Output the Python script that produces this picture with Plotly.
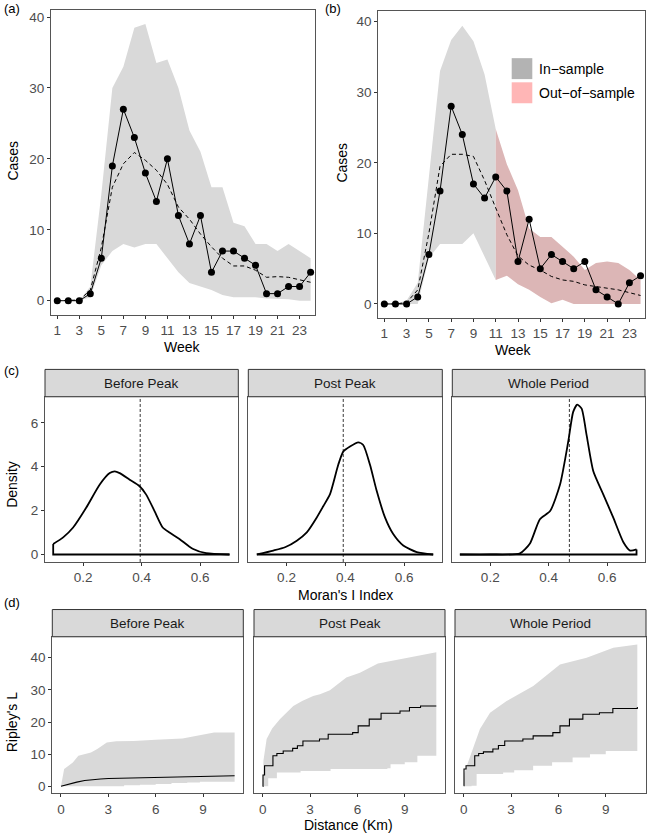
import plotly.graph_objects as go

W, H = 649, 836

# ---------------- data ----------------
weeks = list(range(1, 25))
a_obs = [0, 0, 0, 1, 6, 19, 27, 23, 18, 14, 20, 12, 8, 12, 4, 7, 7, 6, 5, 1, 1, 2, 2, 4]
a_fit = [0, 0, 0.1, 1.5, 7.5, 16, 19.3, 20.9, 19.8, 18.4, 16.4, 13.2, 11.5, 9.4, 7.6, 6.0, 4.9, 4.9, 4.3, 3.3, 3.4, 3.3, 3.0, 2.6]
a_upper = [0, 0, 0, 2, 15, 30, 33, 38.5, 39, 33.5, 34, 30, 24, 21, 16, 16, 11, 10.5, 8, 8, 7, 8, 7, 6]
a_lower = [0, 0, 0, 0.5, 5, 7, 8, 7.5, 8, 8, 6, 4, 2.5, 2, 1.5, 0.8, 0.5, 0.5, 0.5, 0.3, 0.3, 0.2, 0, 0]

b_obs = [0, 0, 0, 1, 7, 16, 28, 24, 17, 15, 18, 16, 6, 12, 5, 7, 6, 5, 6, 2, 1, 0, 3, 4]
b_fit = [0, 0, 0.2, 2, 10, 19.5, 21.2, 21.2, 20.9, 17.5, 13.6, 9.8, 6.8, 5.5, 4.8, 3.9, 3.4, 3.2, 2.7, 2.5, 2.3, 2.0, 1.6, 1.2]
b_upper = [0, 0, 0.5, 3, 18, 33, 37.4, 39.4, 37.2, 32.5, 24.8, 19.8, 16.1, 10.7, 9.5, 9.5, 8.1, 6.7, 4.8, 5.8, 6.0, 5.8, 4.8, 3.4]
b_lower = [0, 0, 0, 0, 6.5, 8.5, 8.5, 8.5, 10, 6.7, 3.4, 4.0, 2.8, 2.0, 1.0, 0.1, 0.6, 0, 0, 0, 0, 0, 0, 0]
b_split_week = 11
legend_labels = ["In\u2212sample", "Out\u2212of\u2212sample"]

facets = ["Before Peak", "Post Peak", "Whole Period"]

dens_x = [
    [0.098, 0.132, 0.166, 0.211, 0.257, 0.291, 0.308, 0.325, 0.359, 0.393, 0.415, 0.444, 0.472, 0.495, 0.529, 0.574, 0.62, 0.70],
    [0.099, 0.155, 0.195, 0.235, 0.269, 0.303, 0.325, 0.348, 0.376, 0.393, 0.416, 0.444, 0.461, 0.484, 0.507, 0.535, 0.563, 0.597, 0.643, 0.699],
    [0.096, 0.2, 0.302, 0.336, 0.37, 0.405, 0.439, 0.467, 0.484, 0.498, 0.513, 0.53, 0.553, 0.587, 0.621, 0.656, 0.679, 0.701],
]
dens_y = [
    [0.48, 0.78, 1.23, 2.14, 3.19, 3.71, 3.79, 3.71, 3.41, 3.11, 2.74, 1.98, 1.23, 1.0, 0.71, 0.26, 0.06, 0.0],
    [0.0, 0.18, 0.33, 0.63, 1.01, 1.69, 2.2, 2.75, 4.09, 4.69, 4.92, 5.11, 4.99, 4.09, 2.89, 1.69, 0.93, 0.41, 0.11, 0.0],
    [0.0, 0.0, 0.05, 0.5, 1.61, 1.98, 3.19, 5.14, 6.5, 6.83, 6.65, 5.44, 3.79, 2.74, 1.69, 0.56, 0.18, 0.23],
]
moran_obs = [0.395, 0.393, 0.471]

rip_line_x = [
    [0, 0.5, 1, 1.5, 2, 2.5, 3, 4, 5, 6, 7, 8, 9, 10, 11],
    [0, 0.02, 0.12, 0.65, 0.9, 1.3, 1.9, 2.2, 2.55, 3.6, 4.15, 5.7, 6.05, 6.75, 7.5, 8.7, 9.3, 10.0, 11],
    [0, 0.02, 0.15, 0.7, 0.95, 1.25, 1.85, 2.2, 2.6, 3.75, 4.4, 5.65, 6.1, 6.7, 7.55, 8.6, 9.45, 11],
]
rip_line_y = [
    [0, 0.7, 1.3, 1.8, 2.1, 2.3, 2.45, 2.55, 2.6, 2.65, 2.75, 2.9, 3.1, 3.2, 3.3],
    [0, 3.5, 6.4, 9.5, 10.2, 11.0, 11.8, 12.6, 14.1, 14.7, 16.2, 16.7, 18.8, 20.9, 22.7, 23.4, 24.5, 25.0, 25.0],
    [0.2, 5.4, 6.4, 9.5, 10.2, 10.7, 11.6, 12.7, 14.1, 14.7, 15.7, 16.7, 18.8, 20.9, 22.4, 22.9, 24.2, 24.7],
]
rip_up_x = [
    [0, 0.1, 0.2, 0.5, 0.75, 1.1, 1.5, 1.9, 2.3, 2.9, 3.5, 4.6, 6, 7.7, 9.7, 11],
    [0, 0.05, 0.25, 0.6, 1.1, 1.5, 1.94, 2.5, 3.2, 3.63, 4.26, 5.3, 6.16, 7.3, 8.7, 10, 11],
    [0, 0.05, 0.2, 0.5, 1.03, 1.67, 2.72, 4.41, 6.1, 7.79, 9.48, 11],
]
rip_up_y = [
    [0, 3.5, 5.4, 6.5, 7.4, 9.5, 10.0, 10.5, 11.6, 13.6, 14.0, 14.1, 14.5, 14.9, 16.7, 16.7],
    [0, 8, 14.7, 18, 20.9, 23, 25, 26.5, 28.1, 28.6, 29.9, 33.8, 35.3, 38.2, 39.5, 40.8, 41.7],
    [0, 4, 6.4, 10.5, 17.8, 22.9, 26.5, 31.2, 37.9, 40, 43.1, 44.1],
]
rip_lo_x = [
    [0, 3, 4, 5, 6, 7, 8, 8.8, 11],
    [0, 0.35, 0.9, 2.4, 4.3, 7.9, 8.1, 9.0, 9.8, 11],
    [0, 0.5, 0.82, 2.5, 3.2, 4.4, 5.6, 6.9, 8.0, 9.0, 11],
]
rip_lo_y = [
    [0, 0, 0.3, 0.5, 0.7, 1.0, 1.2, 1.4, 1.4],
    [0, 2.5, 4.3, 4.8, 5.4, 5.6, 6.9, 7.5, 9.5, 9.5],
    [0, 0.2, 3.8, 4.3, 5.0, 6.4, 7.5, 9.0, 10.0, 11.0, 11.8],
]

# ---------------- styling ----------------
FONT = "Liberation Sans, Arial, Helvetica, sans-serif"
GREY_RIB = "#d9d9d9"
PINK_RIB = "#dcb6b6"
LEG_GREY = "#b3b3b3"
LEG_PINK = "#ffb6b6"
BORDER = "#555555"


def xd(a, b):
    return [a / W, b / W]


def yd(top, bottom):
    return [1 - bottom / H, 1 - top / H]


def px_x(p):
    return p / W


def px_y(p):
    return 1 - p / H


def axis(domain, rng, tickvals, anchor, labels=True, ticktext=None):
    d = dict(domain=domain, range=rng, tickvals=tickvals, anchor=anchor,
             showticklabels=labels, ticks="outside" if labels else "",
             ticklen=3, tickwidth=1, tickcolor="#333333",
             showline=True, mirror=True, linecolor=BORDER, linewidth=1,
             showgrid=False, zeroline=False,
             tickfont=dict(size=13.5, color="#4d4d4d", family=FONT))
    if ticktext is not None:
        d["ticktext"] = ticktext
    return d


fig = go.Figure()
layout = {}

# ---- panel (a) ----
layout["xaxis"] = axis(xd(51, 315), [0.43, 24.4], list(range(1, 24, 2)), "y")
layout["yaxis"] = axis(yd(9.3, 314.3), [-1.95, 40.95], [0, 10, 20, 30, 40], "x")
fig.add_trace(go.Scatter(x=weeks, y=a_lower, mode="lines", line=dict(width=0),
                         hoverinfo="skip", showlegend=False, xaxis="x", yaxis="y"))
fig.add_trace(go.Scatter(x=weeks, y=a_upper, mode="lines", line=dict(width=0),
                         fill="tonexty", fillcolor=GREY_RIB, showlegend=False, xaxis="x", yaxis="y"))
fig.add_trace(go.Scatter(x=weeks, y=a_fit, mode="lines",
                         line=dict(color="black", width=1, dash="4px,3px"),
                         showlegend=False, xaxis="x", yaxis="y"))
fig.add_trace(go.Scatter(x=weeks, y=a_obs, mode="lines+markers",
                         line=dict(color="black", width=1), marker=dict(color="black", size=7),
                         showlegend=False, xaxis="x", yaxis="y"))

# ---- panel (b) ----
layout["xaxis2"] = axis(xd(378.3, 645), [0.46, 24.4], list(range(1, 24, 2)), "y2")
layout["yaxis2"] = axis(yd(10, 317.7), [-1.98, 41.5], [0, 10, 20, 30, 40], "x2")
k = weeks.index(b_split_week)
for sl, col in [(slice(0, k + 1), GREY_RIB), (slice(k, None), PINK_RIB)]:
    fig.add_trace(go.Scatter(x=weeks[sl], y=b_lower[sl], mode="lines", line=dict(width=0),
                             hoverinfo="skip", showlegend=False, xaxis="x2", yaxis="y2"))
    fig.add_trace(go.Scatter(x=weeks[sl], y=b_upper[sl], mode="lines", line=dict(width=0),
                             fill="tonexty", fillcolor=col, showlegend=False, xaxis="x2", yaxis="y2"))
fig.add_trace(go.Scatter(x=weeks, y=b_fit, mode="lines",
                         line=dict(color="black", width=1, dash="4px,3px"),
                         showlegend=False, xaxis="x2", yaxis="y2"))
fig.add_trace(go.Scatter(x=weeks, y=b_obs, mode="lines+markers",
                         line=dict(color="black", width=1), marker=dict(color="black", size=7),
                         showlegend=False, xaxis="x2", yaxis="y2"))

shapes = []
annotations = []

# legend of (b)
for i, (lab, col) in enumerate(zip(legend_labels, [LEG_GREY, LEG_PINK])):
    top = 57.3 + i * 24.2
    shapes.append(dict(type="rect", xref="paper", yref="paper",
                       x0=px_x(511.7), x1=px_x(532.3), y0=px_y(top + 21), y1=px_y(top),
                       fillcolor=col, line=dict(width=0)))
    annotations.append(dict(text=lab, xref="paper", yref="paper", x=px_x(537), y=px_y(top + 10.5),
                            xanchor="left", yanchor="middle", showarrow=False,
                            font=dict(size=14, color="black", family=FONT)))

# ---- panel (c) ----
c_x = [(45, 238.3), (248.3, 442.3), (452.3, 645)]
c_top, c_bot, c_strip = 396.7, 562.3, 369.3
for i in range(3):
    n = 3 + i
    xa, ya = f"x{n}", f"y{n}"
    layout[f"xaxis{n}"] = axis(xd(*c_x[i]), [0.07, 0.73], [0.2, 0.4, 0.6], ya,
                               ticktext=["0.2", "0.4", "0.6"])
    layout[f"yaxis{n}"] = axis(yd(c_top, c_bot), [-0.34, 7.19], [0, 2, 4, 6], xa, labels=(i == 0))
    xs, ys = dens_x[i], dens_y[i]
    fig.add_trace(go.Scatter(x=[xs[0], xs[0], xs[-1], xs[-1]], y=[ys[0], 0, 0, ys[-1]],
                             mode="lines", line=dict(color="black", width=1.8),
                             showlegend=False, xaxis=xa, yaxis=ya))
    fig.add_trace(go.Scatter(x=xs, y=ys, mode="lines",
                             line=dict(color="black", width=1.8, shape="spline", smoothing=0.6),
                             showlegend=False, xaxis=xa, yaxis=ya))
    shapes.append(dict(type="line", xref=xa, yref=f"{ya} domain", x0=moran_obs[i], x1=moran_obs[i],
                       y0=0, y1=1, line=dict(color="black", width=0.8, dash="3px,2px")))
    shapes.append(dict(type="rect", xref="paper", yref="paper",
                       x0=px_x(c_x[i][0]), x1=px_x(c_x[i][1]), y0=px_y(c_top), y1=px_y(c_strip),
                       fillcolor="#d9d9d9", line=dict(color="#333333", width=1)))
    annotations.append(dict(text=facets[i], xref="paper", yref="paper",
                            x=px_x((c_x[i][0] + c_x[i][1]) / 2), y=px_y((c_top + c_strip) / 2),
                            xanchor="center", yanchor="middle", showarrow=False,
                            font=dict(size=13.5, color="#1a1a1a", family=FONT)))

# ---- panel (d) ----
d_x = [(52.3, 243.3), (254, 445), (455, 646)]
d_top, d_bot, d_strip = 637.3, 794.3, 610
for i in range(3):
    n = 6 + i
    xa, ya = f"x{n}", f"y{n}"
    layout[f"xaxis{n}"] = axis(xd(*d_x[i]), [-0.55, 11.55], [0, 3, 6, 9], ya)
    layout[f"yaxis{n}"] = axis(yd(d_top, d_bot), [-2.2, 46.5], [0, 10, 20, 30, 40], xa, labels=(i == 0))
    fig.add_trace(go.Scatter(x=rip_lo_x[i], y=rip_lo_y[i], mode="lines",
                             line=dict(width=0, shape="hv"), hoverinfo="skip",
                             showlegend=False, xaxis=xa, yaxis=ya))
    fig.add_trace(go.Scatter(x=rip_up_x[i], y=rip_up_y[i], mode="lines",
                             line=dict(width=0), fill="tonexty", fillcolor=GREY_RIB,
                             showlegend=False, xaxis=xa, yaxis=ya))
    fig.add_trace(go.Scatter(x=rip_line_x[i], y=rip_line_y[i], mode="lines",
                             line=dict(color="black", width=1.1, shape="linear" if i == 0 else "hv"),
                             showlegend=False, xaxis=xa, yaxis=ya))
    shapes.append(dict(type="rect", xref="paper", yref="paper",
                       x0=px_x(d_x[i][0]), x1=px_x(d_x[i][1]), y0=px_y(d_top), y1=px_y(d_strip),
                       fillcolor="#d9d9d9", line=dict(color="#333333", width=1)))
    annotations.append(dict(text=facets[i], xref="paper", yref="paper",
                            x=px_x((d_x[i][0] + d_x[i][1]) / 2), y=px_y((d_top + d_strip) / 2),
                            xanchor="center", yanchor="middle", showarrow=False,
                            font=dict(size=13.5, color="#1a1a1a", family=FONT)))

# ---- titles & labels ----
def text(t, x, y, size=13, angle=0, anchor="center"):
    annotations.append(dict(text=t, xref="paper", yref="paper", x=px_x(x), y=px_y(y),
                            xanchor=anchor, yanchor="middle", showarrow=False, textangle=angle,
                            font=dict(size=size, color="black", family=FONT)))

text("(a)", 2, 8, 13, anchor="left")
text("(b)", 323, 8, 13, anchor="left")
text("(c)", 2, 370, 13, anchor="left")
text("(d)", 2, 603, 13, anchor="left")
text("Cases", 13, 160, 14, angle=-90)
text("Cases", 342, 162, 14, angle=-90)
text("Week", 183, 346.5, 14)
text("Week", 513, 350, 14)
text("Density", 12, 485, 14, angle=-90)
text("Moran's I Index", 345, 595, 14)
text("Ripley's L", 12, 723, 14, angle=-90)
text("Distance (Km)", 348, 826, 14)

layout.update(dict(width=W, height=H, margin=dict(l=0, r=0, t=0, b=0),
                   paper_bgcolor="white", plot_bgcolor="white",
                   shapes=shapes, annotations=annotations, showlegend=False,
                   font=dict(family=FONT)))
fig.update_layout(**layout)
fig.write_html("out.html", config={"displayModeBar": False, "staticPlot": True},
               post_script="document.body.style.margin='0px';document.body.style.overflow='hidden';")
